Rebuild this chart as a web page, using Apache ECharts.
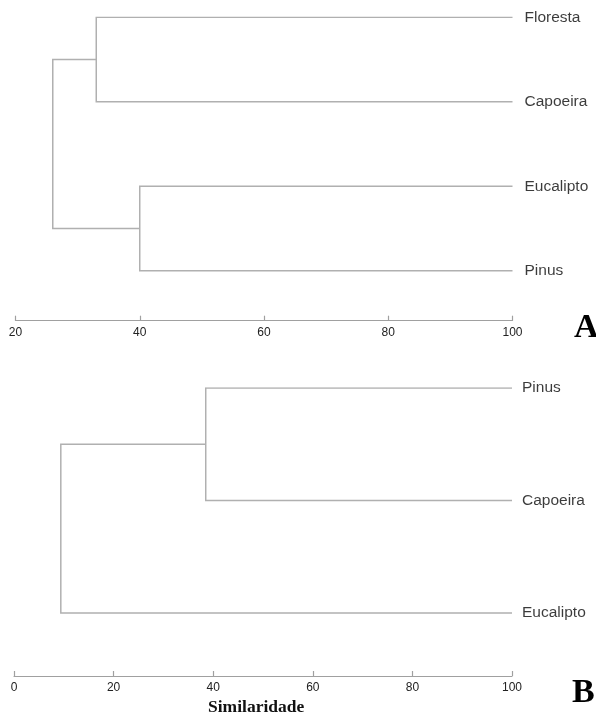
<!DOCTYPE html>
<html>
<head>
<meta charset="utf-8">
<script src="https://cdn.jsdelivr.net/npm/echarts@6/dist/echarts.min.js"></script>
<style>
html,body{margin:0;padding:0;background:#fff;}
#chart{width:596px;height:718px;}
</style>
</head>
<body>
<div id="chart"></div>
<script>
// ---- Data ----
// Panel A
const leavesA = ['Floresta', 'Capoeira', 'Eucalipto', 'Pinus'];
// merges: [childA, childB, similarity]; node ids: leaves 0..n-1, then merges n, n+1, ...
const mergesA = [[0, 1, 33], [2, 3, 40], [4, 5, 26]];
const ticksA = [20, 40, 60, 80, 100];

// Panel B
const leavesB = ['Pinus', 'Capoeira', 'Eucalipto'];
const mergesB = [[0, 1, 38.5], [3, 2, 9.4]];
const ticksB = [0, 20, 40, 60, 80, 100];

const axisTitle = 'Similaridade';
const panelLetters = ['A', 'B'];

// ---- Build dendrogram segments in data coordinates ----
function buildTree(leaves, merges) {
  const nodes = leaves.map((n, i) => ({ x: 100, y: i }));
  const paths = [];
  merges.forEach(([a, b, h]) => {
    const na = nodes[a], nb = nodes[b];
    paths.push({ coords: [[na.x, na.y], [h, na.y], [h, nb.y], [nb.x, nb.y]] });
    nodes.push({ x: h, y: (na.y + nb.y) / 2 });
  });
  return paths;
}

const lineColor = '#b0b0b0';
const chart = echarts.init(document.getElementById('chart'), null, { renderer: 'canvas' });

function xAxisDef(gridIndex, ticks) {
  return {
    gridIndex: gridIndex, type: 'value',
    min: ticks[0], max: ticks[ticks.length - 1], interval: ticks[1] - ticks[0],
    axisLine: { show: true, onZero: false, lineStyle: { color: '#a0a0a0', width: 1.2 } },
    axisTick: { show: true, inside: true, length: 5, lineStyle: { color: '#a0a0a0', width: 1.2 } },
    axisLabel: { margin: 6, fontSize: 12, color: '#222', fontFamily: 'Liberation Sans, Arial, sans-serif' },
    splitLine: { show: false }
  };
}

const option = {
  backgroundColor: '#fff',
  animation: false,
  grid: [
    { left: 15.5, right: 83.5, top: 17.3, height: 303.4 },
    { left: 14, right: 84, top: 388, height: 288 }
  ],
  xAxis: [xAxisDef(0, ticksA), xAxisDef(1, ticksB)],
  yAxis: [
    { gridIndex: 0, type: 'value', inverse: true, min: 0, max: 303.4 / 84.47, show: false },
    { gridIndex: 1, type: 'value', inverse: true, min: 0, max: 288 / 112.5, show: false }
  ],
  series: [
    {
      type: 'lines', coordinateSystem: 'cartesian2d', xAxisIndex: 0, yAxisIndex: 0,
      polyline: true, silent: true,
      lineStyle: { color: lineColor, width: 1.5, opacity: 1 },
      data: buildTree(leavesA, mergesA)
    },
    {
      type: 'lines', coordinateSystem: 'cartesian2d', xAxisIndex: 1, yAxisIndex: 1,
      polyline: true, silent: true,
      lineStyle: { color: lineColor, width: 1.5, opacity: 1 },
      data: buildTree(leavesB, mergesB)
    },
    {
      type: 'scatter', xAxisIndex: 0, yAxisIndex: 0, symbolSize: 0, silent: true,
      data: leavesA.map((n, i) => ({ value: [100, i], name: n })),
      label: { show: true, position: 'right', distance: 12, formatter: p => p.name,
        fontSize: 15.5, color: '#0a0a0a', fontFamily: 'Liberation Sans, Arial, sans-serif' }
    },
    {
      type: 'scatter', xAxisIndex: 1, yAxisIndex: 1, symbolSize: 0, silent: true,
      data: leavesB.map((n, i) => ({ value: [100, i], name: n })),
      label: { show: true, position: 'right', distance: 10, formatter: p => p.name,
        fontSize: 15.5, color: '#0a0a0a', fontFamily: 'Liberation Sans, Arial, sans-serif' }
    }
  ],
  graphic: [
    { type: 'text', left: 574, top: 311, style: { text: panelLetters[0], fontSize: 34, fontWeight: 'bold',
      fontFamily: 'Liberation Serif, Times New Roman, serif', fill: '#000' } },
    { type: 'text', left: 572, top: 676, style: { text: panelLetters[1], fontSize: 34, fontWeight: 'bold',
      fontFamily: 'Liberation Serif, Times New Roman, serif', fill: '#000' } },
    { type: 'text', left: 208, top: 698, style: { text: axisTitle, fontSize: 17.5, fontWeight: 'bold',
      fontFamily: 'Liberation Serif, Times New Roman, serif', fill: '#111' } }
  ]
};
chart.setOption(option);
</script>
</body>
</html>
